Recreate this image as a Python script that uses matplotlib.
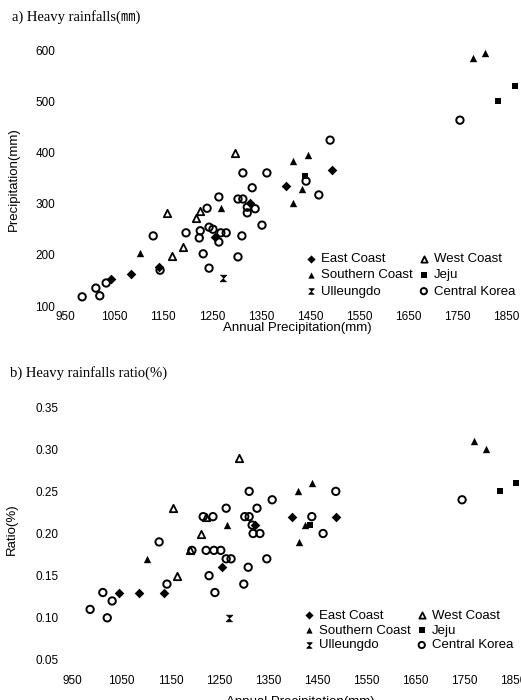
import numpy as np
from matplotlib import pyplot as plt

# a) heavy rainfalls (mm) vs annual precipitation (mm)
east_x_a = [1044, 1085, 1142, 1256, 1328, 1401, 1495]
east_y_a = [153, 163, 176, 235, 301, 334, 366]
west_x_a = [1297, 1158, 1168, 1191, 1217, 1226]
west_y_a = [399, 282, 198, 215, 272, 286]
south_x_a = [1103, 1268, 1415, 1446, 1434, 1415, 1783, 1807]
south_y_a = [204, 291, 383, 395, 329, 301, 584, 594]
jeju_x_a = [1440, 1834, 1868]
jeju_y_a = [354, 500, 530]
ulleung_x_a = [1272]
ulleung_y_a = [155]
central_x_a = [985, 1013, 1021, 1034, 1130, 1144, 1197, 1224, 1226, 1232, 1244,
               1240, 1244, 1252, 1268, 1279, 1264, 1264, 1303, 1311, 1303, 1313,
               1313, 1332, 1322, 1322, 1338, 1352, 1362, 1442, 1468, 1491, 1756]
central_y_a = [118, 135, 120, 145, 237, 170, 243, 233, 247, 202, 174,
               291, 254, 250, 243, 243, 225, 313, 196, 237, 309, 309,
               360, 331, 293, 282, 290, 258, 360, 344, 317, 424, 463]

# b) heavy rainfalls ratio vs annual precipitation (mm)
east_x_b = [1045, 1086, 1137, 1255, 1323, 1398, 1488]
east_y_b = [0.13, 0.13, 0.13, 0.16, 0.21, 0.22, 0.22]
west_x_b = [1290, 1155, 1164, 1190, 1213, 1223]
west_y_b = [0.29, 0.23, 0.15, 0.18, 0.20, 0.22]
south_x_b = [1102, 1266, 1411, 1439, 1425, 1413, 1770, 1795]
south_y_b = [0.17, 0.21, 0.25, 0.26, 0.21, 0.19, 0.31, 0.30]
jeju_x_b = [1435, 1823, 1856]
jeju_y_b = [0.21, 0.25, 0.26]
ulleung_x_b = [1270]
ulleung_y_b = [0.10]
central_x_b = [986, 1021, 1012, 1031, 1127, 1143, 1194, 1223, 1239, 1253, 1264,
               1274, 1217, 1237, 1264, 1302, 1311, 1327, 1319, 1333, 1311, 1358,
               1309, 1229, 1300, 1241, 1347, 1439, 1462, 1488, 1746, 1317]
central_y_b = [0.11, 0.10, 0.13, 0.12, 0.19, 0.14, 0.18, 0.18, 0.18, 0.18, 0.17,
               0.17, 0.22, 0.22, 0.23, 0.22, 0.22, 0.23, 0.20, 0.20, 0.25, 0.24,
               0.16, 0.15, 0.14, 0.13, 0.17, 0.22, 0.20, 0.25, 0.24, 0.21]

xticks = np.arange(950, 1851, 100)

W, H = 521, 700
fig = plt.figure(figsize=(W/100, H/100), dpi=100)
sans = ['Liberation Sans', 'DejaVu Sans']
serif = ['Liberation Serif', 'Noto Sans CJK KR', 'DejaVu Serif']

def rect(x0, x1, ytop, ybot):
    return [x0/W, 1-ybot/H, (x1-x0)/W, (ybot-ytop)/H]

hourglass = [(-1, 1), (1, 1), (-1, -1), (1, -1)]

def draw(ax, d):
    ms = 28
    ax.scatter(d[0][0], d[0][1], marker='D', s=24, c='k', lw=0, clip_on=False, label='East Coast')
    ax.scatter(d[2][0], d[2][1], marker='^', s=28, c='k', lw=0, clip_on=False, label='Southern Coast')
    ax.scatter(d[4][0], d[4][1], marker=hourglass, s=22, c='k', lw=0.6, clip_on=False, label='Ulleungdo')
    ax.scatter(d[1][0], d[1][1], marker='^', s=ms, facecolors='white', edgecolors='k', lw=1.3,
               clip_on=False, label='West Coast')
    ax.scatter(d[3][0], d[3][1], marker='s', s=18, c='k', lw=0, clip_on=False, label='Jeju')
    ax.scatter(d[5][0], d[5][1], marker='o', s=ms, facecolors='none', edgecolors='k', lw=1.4,
               clip_on=False, label='Central Korea')
    for sp in ax.spines.values():
        sp.set_visible(False)
    ax.set_xticks(xticks)
    for lab in ax.get_xticklabels() + ax.get_yticklabels():
        lab.set_family(sans)
        lab.set_fontsize(8.5)

# top panel
ax1 = fig.add_axes(rect(60.1, 520.7, 44.9, 308.6))
draw(ax1, [(east_x_a, east_y_a), (west_x_a, west_y_a), (south_x_a, south_y_a),
           (jeju_x_a, jeju_y_a), (ulleung_x_a, ulleung_y_a), (central_x_a, central_y_a)])
ax1.set_xlim(940, 1880)
ax1.set_ylim(95, 610)
ax1.set_yticks([100, 200, 300, 400, 500, 600])
for lab in ax1.get_yticklabels():
    lab.set_family(sans)
    lab.set_fontsize(8.5)
ax1.tick_params(axis='y', length=0, pad=3.6)
ax1.tick_params(axis='x', length=0, pad=1.5)
ax1.set_xlabel('Annual Precipitation(mm)', family=sans, fontsize=9.5, labelpad=1)
ax1.xaxis.set_label_coords(0.514, -0.05)
ax1.set_ylabel('Precipitation(mm)', family=sans, fontsize=9.5)
ax1.yaxis.set_label_coords(-0.087, 0.49)
ax1.legend(loc='upper left', bbox_to_anchor=(0.587, 1-253/H), bbox_transform=fig.transFigure,
           ncol=2, frameon=False, prop={'family': sans, 'size': 9.5}, borderpad=0,
           handlelength=0.8, handletextpad=0.34, columnspacing=0.45, labelspacing=0.3,
           markerscale=0.85, borderaxespad=0)
fig.text(12/W, 1-17/H, 'a) Heavy rainfalls(㎜)', family=serif, fontsize=10.5, va='center')

# bottom panel
ax2 = fig.add_axes(rect(67.6, 520.8, 398.6, 664.2))
draw(ax2, [(east_x_b, east_y_b), (west_x_b, west_y_b), (south_x_b, south_y_b),
           (jeju_x_b, jeju_y_b), (ulleung_x_b, ulleung_y_b), (central_x_b, central_y_b)])
ax2.set_xlim(940, 1866)
ax2.set_ylim(0.045, 0.36)
ax2.set_yticks([0.05, 0.10, 0.15, 0.20, 0.25, 0.30, 0.35])
ax2.set_yticklabels(['0.05', '0.10', '0.15', '0.20', '0.25', '0.30', '0.35'])
for lab in ax2.get_yticklabels():
    lab.set_family(sans)
    lab.set_fontsize(8.5)
ax2.tick_params(axis='y', length=0, pad=6.2)
ax2.tick_params(axis='x', length=0, pad=7.5)
ax2.set_xlabel('Annual Precipitation(mm)', family=sans, fontsize=9.5)
ax2.xaxis.set_label_coords(0.514, -0.12)
ax2.set_ylabel('Ratio(%)', family=sans, fontsize=9.5)
ax2.yaxis.set_label_coords(-0.11, 0.51)
ax2.legend(loc='upper left', bbox_to_anchor=(0.583, 1-609.5/H), bbox_transform=fig.transFigure,
           ncol=2, frameon=False, prop={'family': sans, 'size': 9.5}, borderpad=0,
           handlelength=0.8, handletextpad=0.34, columnspacing=0.45, labelspacing=0.2,
           markerscale=0.85, borderaxespad=0)
fig.text(10/W, 1-373/H, 'b) Heavy rainfalls ratio(%)', family=serif, fontsize=10.5, va='center')

fig.savefig('out.png', dpi=100)
